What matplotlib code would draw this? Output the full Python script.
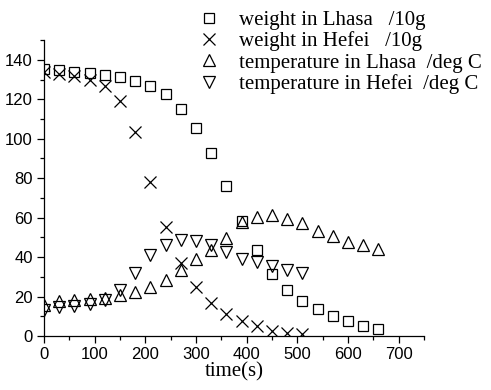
import matplotlib
matplotlib.use("Agg")
import matplotlib.pyplot as plt
from matplotlib.ticker import MultipleLocator
from matplotlib.lines import Line2D

time_s = [0, 30, 60, 90, 120, 150, 180, 210, 240, 270, 300, 330, 360, 390,
          420, 450, 480, 510, 540, 570, 600, 630, 660]

weight_lhasa = [135.2, 134.8, 134.0, 133.2, 132.3, 131.3, 129.5, 126.8, 122.6,
                115.3, 105.6, 92.8, 75.9, 58.2, 43.8, 31.2, 23.2, 17.7, 13.5,
                10.3, 7.4, 5.2, 3.5]
weight_hefei = [133.8, 132.7, 131.8, 129.8, 126.8, 119.2, 103.2, 77.9, 55.2,
                37.2, 24.6, 16.8, 11.4, 7.6, 5.2, 2.7, 1.3, 0.8]
temp_lhasa = [15.7, 17.8, 18.0, 19.0, 19.5, 20.7, 22.4, 24.9, 28.6, 33.3, 39.1,
              43.8, 49.8, 57.7, 60.3, 61.3, 59.4, 57.2, 53.2, 50.8, 47.6, 46.0,
              44.1]
temp_hefei = [13.0, 14.8, 15.0, 16.2, 18.5, 23.2, 32.1, 40.9, 45.9, 48.5, 48.0,
              46.0, 42.6, 39.2, 37.5, 35.4, 33.3, 31.7]

labels = ["weight in Lhasa   /10g", "weight in Hefei   /10g",
          "temperature in Lhasa  /deg C", "temperature in Hefei  /deg C"]

serif = ["Liberation Serif", "DejaVu Serif"]
sans = ["Liberation Sans", "DejaVu Sans"]

fig = plt.figure(figsize=(4.91, 3.90), dpi=100)
ax = fig.add_axes([0.0896, 0.1385, 0.774, 0.7585])

mk = dict(linestyle="none", color="black", markerfacecolor="none",
          markeredgewidth=0.9)
series = [
    (time_s, weight_lhasa, "s", 7),
    (time_s[:len(weight_hefei)], weight_hefei, "x", 8),
    (time_s, temp_lhasa, "^", 8.5),
    (time_s[:len(temp_hefei)], temp_hefei, "v", 8.5),
]
for x, y, m, ms in series:
    ax.plot(x, y, marker=m, markersize=ms, **mk)

ax.set_xlim(0, 750)
ax.set_ylim(0, 150)
ax.xaxis.set_major_locator(MultipleLocator(100))
ax.xaxis.set_minor_locator(MultipleLocator(50))
ax.yaxis.set_major_locator(MultipleLocator(20))
ax.yaxis.set_minor_locator(MultipleLocator(10))
ax.tick_params(which="major", direction="out", length=5, width=0.9,
               labelsize=12, pad=3)
ax.tick_params(which="minor", direction="out", length=3, width=0.9)
for lbl in ax.get_xticklabels() + ax.get_yticklabels():
    lbl.set_fontfamily(sans)
ax.spines["top"].set_visible(False)
ax.spines["right"].set_visible(False)
for s in ("left", "bottom"):
    ax.spines[s].set_linewidth(0.9)

ax.set_xlabel("time(s)", fontfamily=serif, fontsize=15, labelpad=0)

handles = [Line2D([], [], marker=m, markersize=ms, **mk)
           for _, _, m, ms in series]
fig.legend(handles, labels, loc="upper left", bbox_to_anchor=(0.388, 0.995),
           frameon=False, prop={"family": serif, "size": 15},
           handlelength=1.0, handletextpad=0.95, labelspacing=0.08,
           borderaxespad=0.0)

fig.savefig("out.png", dpi=100)
